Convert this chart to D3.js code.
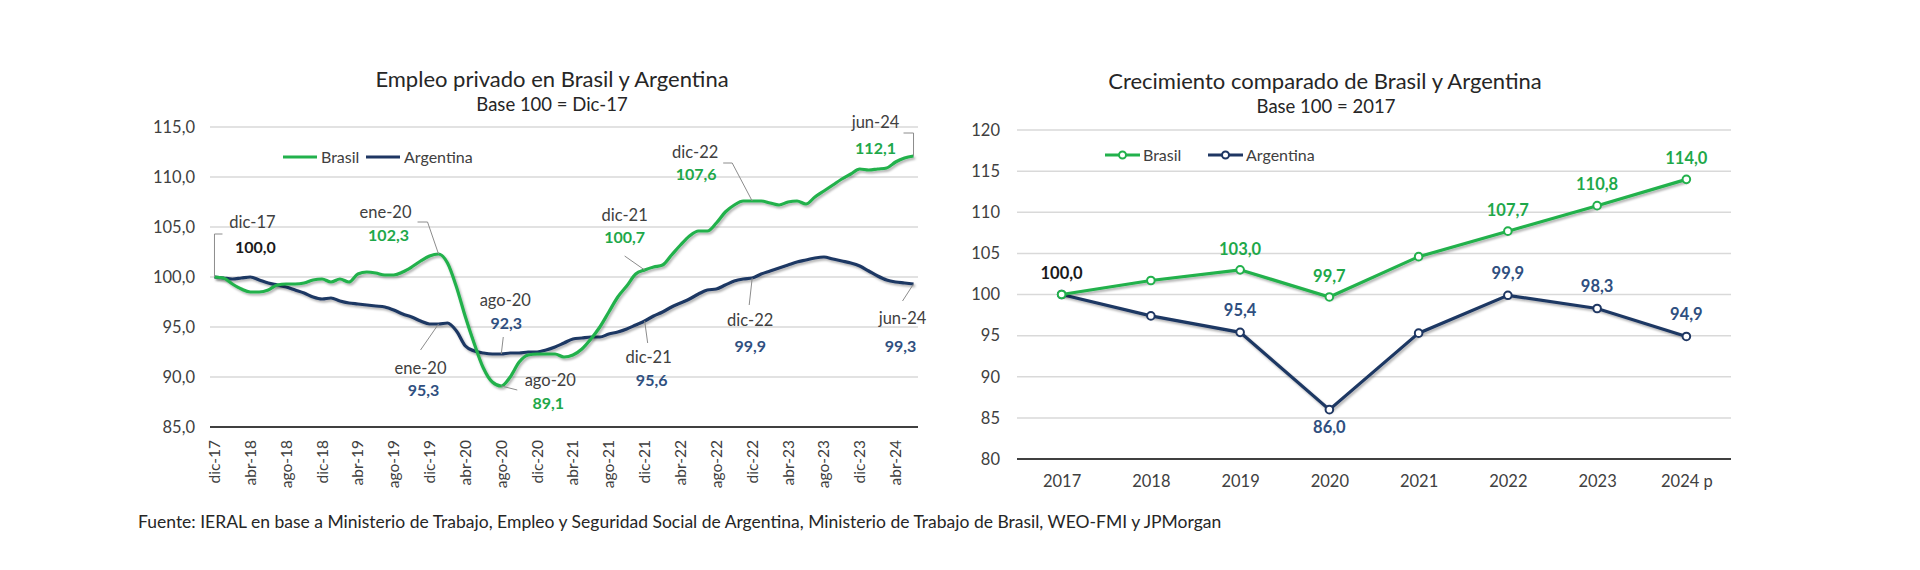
<!DOCTYPE html>
<html>
<head>
<meta charset="utf-8">
<script src="https://cdn.jsdelivr.net/npm/d3@7"></script>
<style>
  html, body { margin: 0; padding: 0; background: #fff; }
  svg { display: block; font-family: Lato, "Open Sans", sans-serif; }
</style>
</head>
<body>
<svg id="chart" width="1920" height="570"></svg>
<script>
// ---------------- DATA ----------------
// Left chart: monthly, dic-17 .. jun-24
const monthNames = ["ene","feb","mar","abr","may","jun","jul","ago","sep","oct","nov","dic"];
const monthlyCategories = (() => {
  const out = ["dic-17"];
  for (let y = 18; y <= 24; y++) {
    for (let m = 0; m < 12; m++) {
      if (y === 24 && m > 5) break;
      out.push(monthNames[m] + "-" + y);
    }
  }
  return out;
})();
const empleoBrasil = [
  100.0, 99.9, 99.3, 98.8, 98.5, 98.5, 98.7, 99.2, 99.3, 99.3,
  99.4, 99.7, 99.8, 99.5, 99.8, 99.5, 100.3, 100.5, 100.4, 100.2,
  100.2, 100.5, 101.0, 101.6, 102.1, 102.3, 101.4, 99.0, 96.0, 93.3,
  90.9, 89.5, 89.1, 90.0, 91.5, 92.2, 92.3, 92.3, 92.3, 92.0,
  92.2, 92.8, 93.8, 95.0, 96.5, 98.0, 99.1, 100.3, 100.7, 101.0,
  101.2, 102.2, 103.2, 104.1, 104.6, 104.6, 105.4, 106.5, 107.2, 107.6,
  107.6, 107.6, 107.4, 107.2, 107.5, 107.6, 107.3, 108.0, 108.6, 109.2,
  109.8, 110.3, 110.8, 110.7, 110.8, 110.9, 111.5, 111.9, 112.1
];
const empleoArgentina = [
  100.0, 99.9, 99.8, 99.9, 100.0, 99.7, 99.4, 99.2, 99.0, 98.7,
  98.4, 98.0, 97.8, 97.9, 97.6, 97.4, 97.3, 97.2, 97.1, 97.0,
  96.7, 96.3, 96.0, 95.6, 95.3, 95.3, 95.4, 94.6, 93.1, 92.6,
  92.4, 92.3, 92.3, 92.4, 92.4, 92.5, 92.5, 92.7, 93.0, 93.4,
  93.8, 93.9, 94.0, 94.0, 94.3, 94.5, 94.8, 95.2, 95.6, 96.1,
  96.5, 97.0, 97.4, 97.8, 98.3, 98.7, 98.8, 99.2, 99.6, 99.8,
  99.9, 100.3, 100.6, 100.9, 101.2, 101.5, 101.7, 101.9, 102.0, 101.8,
  101.6, 101.4, 101.1, 100.6, 100.1, 99.7, 99.5, 99.4, 99.3
];
const leftXTickLabels = ["dic-17","abr-18","ago-18","dic-18","abr-19","ago-19","dic-19","abr-20","ago-20","dic-20",
  "abr-21","ago-21","dic-21","abr-22","ago-22","dic-22","abr-23","ago-23","dic-23","abr-24"];
const leftYTicks = [85, 90, 95, 100, 105, 110, 115];
const leftAnnotations = [
  { cat: "dic-17", series: "black", value: 100.0 },
  { cat: "ene-20", series: "Brasil", value: 102.3 },
  { cat: "ene-20", series: "Argentina", value: 95.3 },
  { cat: "ago-20", series: "Argentina", value: 92.3 },
  { cat: "ago-20", series: "Brasil", value: 89.1 },
  { cat: "dic-21", series: "Brasil", value: 100.7 },
  { cat: "dic-21", series: "Argentina", value: 95.6 },
  { cat: "dic-22", series: "Brasil", value: 107.6 },
  { cat: "dic-22", series: "Argentina", value: 99.9 },
  { cat: "jun-24", series: "Brasil", value: 112.1 },
  { cat: "jun-24", series: "Argentina", value: 99.3 }
];

// Right chart: yearly
const years = ["2017","2018","2019","2020","2021","2022","2023","2024 p"];
const crecBrasil = [100.0, 101.7, 103.0, 99.7, 104.6, 107.7, 110.8, 114.0];
const crecArgentina = [100.0, 97.4, 95.4, 86.0, 95.3, 99.9, 98.3, 94.9];
const crecBrasilLabels = ["100,0", null, "103,0", "99,7", null, "107,7", "110,8", "114,0"];
const crecArgentinaLabels = [null, null, "95,4", "86,0", null, "99,9", "98,3", "94,9"];
const rightYTicks = [80, 85, 90, 95, 100, 105, 110, 115, 120];

const footnote = "Fuente: IERAL en base a Ministerio de Trabajo, Empleo y Seguridad Social de Argentina, Ministerio de Trabajo de Brasil, WEO-FMI y JPMorgan";

// ---------------- STYLE / LAYOUT ----------------
const GREEN = "#22b14c";
const NAVY = "#1f3763";
const GREEN_LBL = "#1ea84a";
const BLUE_LBL = "#2f4f80";
const GRID = "#d9d9d9";
const AXIS = "#404040";
const TXT = "#404040";

// annotation layout (offsets from anchor point), parallel to leftAnnotations
const annLayout = [
  { d: [38, -55], v: [41, -30], lead: [[0, 0], [0, -43], [8, -43]] },
  { d: [-53, -42], v: [-50, -19], lead: [[0, 0], [-11, -32], [-21, -32]] },
  { d: [-18, 44], v: [-15, 66], lead: [[0, 0], [-18, 26]] },
  { d: [4, -54], v: [5, -31], lead: [[0, 0], [2, -17]] },
  { d: [49, -6], v: [47, 17], lead: [[0, 0], [16, 4]] },
  { d: [-20, -55], v: [-20, -33], lead: [[0, 0], [-20, -14]] },
  { d: [4, 36], v: [7, 59], lead: [[0, 0], [3, 22]] },
  { d: [-57, -49], v: [-56, -27], lead: [[0, 0], [-20, -38], [-29, -38]] },
  { d: [-2, 42], v: [-2, 68], lead: [[0, 0], [-3, 27]] },
  { d: [-38, -34], v: [-38, -8], lead: [[0, 0], [0, -23], [-10, -23]] },
  { d: [-11, 34], v: [-13, 62], lead: [[0, 0], [-11, 17]] }
];

const svg = d3.select("#chart");
const defs = svg.append("defs");
const f = defs.append("filter").attr("id", "shadow").attr("x", "-5%").attr("y", "-5%").attr("width", "110%").attr("height", "120%");
f.append("feDropShadow").attr("dx", 1.5).attr("dy", 2).attr("stdDeviation", 1.3)
  .attr("flood-color", "#000").attr("flood-opacity", 0.3);

const fmt = v => d3.format(".1f")(v).replace(".", ",");

// ---------------- LEFT CHART ----------------
{
  const x = d3.scalePoint().domain(monthlyCategories).range([210, 918]).padding(0.5);
  const y = d3.scaleLinear().domain([85, 115]).range([427, 127]);
  const g = svg.append("g");

  g.append("text").attr("x", 552).attr("y", 87).attr("text-anchor", "middle")
    .attr("font-size", 22).attr("fill", "#262626").text("Empleo privado en Brasil y Argentina");
  g.append("text").attr("x", 552).attr("y", 111).attr("text-anchor", "middle")
    .attr("font-size", 18.5).attr("fill", "#262626").text("Base 100 = Dic-17");

  // gridlines
  g.append("g").selectAll("line").data(leftYTicks.filter(t => t !== 85)).join("line")
    .attr("x1", 210).attr("x2", 918).attr("y1", d => y(d)).attr("y2", d => y(d))
    .attr("stroke", GRID).attr("stroke-width", 1.5);

  // y axis labels
  const ya = g.append("g").attr("transform", "translate(210,0)")
    .call(d3.axisLeft(y).tickValues(leftYTicks).tickSize(0).tickPadding(15).tickFormat(fmt));
  ya.select(".domain").remove();
  ya.selectAll("text").attr("font-size", 16.5).attr("fill", TXT).attr("font-family", "Lato");

  // x axis
  const xa = g.append("g").attr("transform", "translate(0,427)")
    .call(d3.axisBottom(x).tickValues(leftXTickLabels).tickSize(0).tickPadding(0));
  xa.select(".domain").attr("stroke", AXIS).attr("stroke-width", 2.2).attr("d", "M210,0H918");
  xa.selectAll("text").attr("font-size", 15.5).attr("fill", TXT).attr("font-family", "Lato")
    .attr("text-anchor", "end").attr("dy", null)
    .attr("transform", "translate(5,13) rotate(-90)");

  const line = d3.line().x((d, i) => x(monthlyCategories[i])).y(d => y(d)).curve(d3.curveMonotoneX);
  g.append("path").datum(empleoArgentina).attr("d", line).attr("fill", "none")
    .attr("stroke", NAVY).attr("stroke-width", 3.2).attr("filter", "url(#shadow)");
  g.append("path").datum(empleoBrasil).attr("d", line).attr("fill", "none")
    .attr("stroke", GREEN).attr("stroke-width", 3.2).attr("filter", "url(#shadow)");

  // legend
  const lg = g.append("g");
  [["Brasil", GREEN, 283], ["Argentina", NAVY, 366]].forEach(([name, col, lx]) => {
    lg.append("line").attr("x1", lx).attr("x2", lx + 34).attr("y1", 157).attr("y2", 157)
      .attr("stroke", col).attr("stroke-width", 3);
    lg.append("text").attr("x", lx + 38).attr("y", 157).attr("dy", "0.35em")
      .attr("font-size", 16).attr("fill", TXT).text(name);
  });

  // annotations
  const ag = g.append("g");
  leftAnnotations.forEach((a, k) => {
    const L = annLayout[k];
    const ax = x(a.cat), ay = y(a.value);
    ag.append("path").attr("d", d3.line()(L.lead.map(p => [ax + p[0], ay + p[1]])))
      .attr("fill", "none").attr("stroke", "#8c8c8c").attr("stroke-width", 1);
    ag.append("text").attr("x", ax + L.d[0]).attr("y", ay + L.d[1]).attr("dy", "0.35em")
      .attr("text-anchor", "middle").attr("font-size", 16.5).attr("fill", TXT).text(a.cat);
    const col = a.series === "Brasil" ? GREEN_LBL : a.series === "Argentina" ? BLUE_LBL : "#1a1a1a";
    ag.append("text").attr("x", ax + L.v[0]).attr("y", ay + L.v[1]).attr("dy", "0.35em")
      .attr("text-anchor", "middle").attr("font-size", 16).attr("font-weight", "bold")
      .attr("fill", col).text(fmt(a.value));
  });
}

// ---------------- RIGHT CHART ----------------
{
  const x = d3.scalePoint().domain(years).range([1017, 1731]).padding(0.5);
  const y = d3.scaleLinear().domain([80, 120]).range([459, 130]);
  const g = svg.append("g");

  g.append("text").attr("x", 1325).attr("y", 89).attr("text-anchor", "middle")
    .attr("font-size", 22).attr("fill", "#262626").text("Crecimiento comparado de Brasil y Argentina");
  g.append("text").attr("x", 1326).attr("y", 113).attr("text-anchor", "middle")
    .attr("font-size", 18.5).attr("fill", "#262626").text("Base 100 = 2017");

  g.append("g").selectAll("line").data(rightYTicks.filter(t => t !== 80)).join("line")
    .attr("x1", 1017).attr("x2", 1731).attr("y1", d => y(d)).attr("y2", d => y(d))
    .attr("stroke", GRID).attr("stroke-width", 1.5);

  const ya = g.append("g").attr("transform", "translate(1017,0)")
    .call(d3.axisLeft(y).tickValues(rightYTicks).tickSize(0).tickPadding(17));
  ya.select(".domain").remove();
  ya.selectAll("text").attr("font-size", 16.5).attr("fill", TXT).attr("font-family", "Lato");

  const xa = g.append("g").attr("transform", "translate(0,459)")
    .call(d3.axisBottom(x).tickSize(0).tickPadding(16));
  xa.select(".domain").attr("stroke", AXIS).attr("stroke-width", 2.2).attr("d", "M1017,0H1731");
  xa.selectAll("text").attr("font-size", 16.5).attr("fill", TXT).attr("font-family", "Lato");

  const line = d3.line().x((d, i) => x(years[i])).y(d => y(d));
  [[crecArgentina, NAVY], [crecBrasil, GREEN]].forEach(([data, col]) => {
    g.append("path").datum(data).attr("d", line).attr("fill", "none")
      .attr("stroke", col).attr("stroke-width", 3.2).attr("filter", "url(#shadow)");
    g.append("g").selectAll("circle").data(data).join("circle")
      .attr("cx", (d, i) => x(years[i])).attr("cy", d => y(d)).attr("r", 3.8)
      .attr("fill", "#fff").attr("stroke", col).attr("stroke-width", 2);
  });

  // data labels
  crecBrasil.forEach((v, i) => {
    const t = crecBrasilLabels[i];
    if (!t) return;
    g.append("text").attr("x", x(years[i])).attr("y", y(v) - 21).attr("dy", "0.35em")
      .attr("text-anchor", "middle").attr("font-size", 16.5).attr("font-weight", "bold")
      .attr("fill", i === 0 ? "#1a1a1a" : GREEN_LBL).text(t);
  });
  crecArgentina.forEach((v, i) => {
    const t = crecArgentinaLabels[i];
    if (!t) return;
    const below = v < 90;
    g.append("text").attr("x", x(years[i])).attr("y", y(v) + (below ? 18 : -22)).attr("dy", "0.35em")
      .attr("text-anchor", "middle").attr("font-size", 16.5).attr("font-weight", "bold")
      .attr("fill", BLUE_LBL).text(t);
  });

  // legend
  [["Brasil", GREEN, 1105], ["Argentina", NAVY, 1208]].forEach(([name, col, lx]) => {
    g.append("line").attr("x1", lx).attr("x2", lx + 35).attr("y1", 155).attr("y2", 155)
      .attr("stroke", col).attr("stroke-width", 3);
    g.append("circle").attr("cx", lx + 17.5).attr("cy", 155).attr("r", 3.5)
      .attr("fill", "#fff").attr("stroke", col).attr("stroke-width", 2);
    g.append("text").attr("x", lx + 38).attr("y", 155).attr("dy", "0.35em")
      .attr("font-size", 16).attr("fill", TXT).text(name);
  });
}

// footnote
svg.append("text").attr("x", 138).attr("y", 522).attr("dy", "0.35em")
  .attr("font-size", 17.5).attr("fill", "#262626").text(footnote);
</script>
</body>
</html>
